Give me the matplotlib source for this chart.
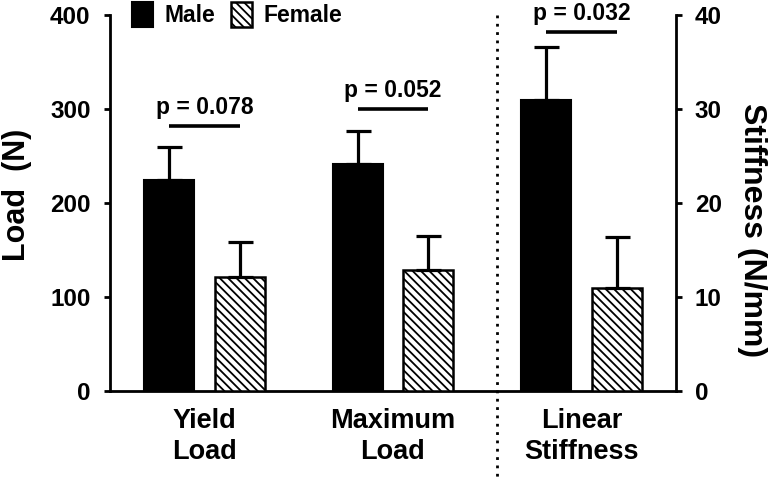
import matplotlib
matplotlib.use("Agg")
import matplotlib.pyplot as plt
from matplotlib.lines import Line2D
import numpy as np

plt.rcParams['font.family'] = ['Liberation Sans', 'DejaVu Sans']
plt.rcParams['font.weight'] = 'bold'
plt.rcParams['hatch.linewidth'] = 1.3

categories = ["Yield\nLoad", "Maximum\nLoad", "Linear\nStiffness"]
series = ["Male", "Female"]
male_vals = [225, 242, 31.0]
male_err = [35, 35, 5.6]
female_vals = [121, 129, 11.0]
female_err = [37, 36, 5.4]
p_labels = ["p = 0.078", "p = 0.052", "p = 0.032"]
p_heights = [282, 300, 38.2]
load_ticks = [0, 100, 200, 300, 400]
stiff_ticks = [0, 10, 20, 30, 40]

W, H = 774, 482
fig = plt.figure(figsize=(W / 100, H / 100), dpi=100)
ax = fig.add_axes([110 / W, 1 - 391 / H, (676 - 110) / W, (391 - 15) / H])
ax2 = ax.twinx()

x = np.arange(len(categories))
off = 0.188
bw = 0.265

err_kw = dict(elinewidth=2.3, capsize=9, capthick=2.3, ecolor='black')

for i in range(3):
    target = ax if i < 2 else ax2
    target.bar(x[i] - off, male_vals[i], bw, color='black', edgecolor='black', linewidth=1.5,
               yerr=[[0], [male_err[i]]], error_kw=err_kw, label=series[0] if i == 0 else None, zorder=3)
    target.bar(x[i] + off, female_vals[i], bw, color='white', edgecolor='black', linewidth=1.8,
               hatch='\\\\\\\\', yerr=[[0], [female_err[i]]], error_kw=err_kw,
               label=series[1] if i == 0 else None, zorder=3)
    target.plot([x[i] - off, x[i] + off], [p_heights[i], p_heights[i]], color='black', lw=2.6,
                solid_capstyle='butt', zorder=4)
    target.annotate(p_labels[i], xy=(x[i], p_heights[i]), xytext=(0, 8.5), textcoords='offset points',
                    ha='center', va='baseline', fontsize=16.5, fontweight='bold')

ax.set_xlim(-0.5, 2.5)
ax.set_ylim(0, 400)
ax2.set_ylim(0, 40)
ax.set_yticks(load_ticks)
ax2.set_yticks(stiff_ticks)
ax.set_xticks(x)
ax.set_xticklabels(categories, fontsize=19.5, fontweight='bold', linespacing=1.28)
ax.tick_params(axis='x', length=0, pad=12)
ax.tick_params(axis='y', direction='out', length=4, width=2, labelsize=17.5, pad=10)
ax2.tick_params(axis='y', direction='out', length=4, width=2, labelsize=17.5, pad=9.5)

for a in (ax, ax2):
    a.spines['top'].set_visible(False)
    for s in ('left', 'right', 'bottom'):
        a.spines[s].set_linewidth(2)
ax.spines['right'].set_visible(False)
ax2.spines['left'].set_visible(False)
ax2.spines['bottom'].set_visible(False)

fig.text(17 / W, 1 - 195 / H, "Load  (N)", rotation=90, ha='center', va='center',
         fontsize=22, fontweight='bold')
fig.text(752 / W, 1 - 230 / H, "Stiffness (N/mm)", rotation=270, ha='center', va='center',
         fontsize=23, fontweight='bold')

# dotted separator
xd = 1.553
trans = ax.get_xaxis_transform()
ax.add_line(Line2D([xd, xd], [1.0, -0.26], transform=trans, color='black', lw=2,
                   linestyle=(0, (1, 2)), clip_on=False))

h1, l1 = ax.get_legend_handles_labels()
leg = fig.legend(h1, l1, loc='upper left', bbox_to_anchor=(130 / W, 1 - 0 / H), ncol=2, frameon=False,
                 fontsize=16.5, handlelength=0.9, handleheight=1.3, handletextpad=0.5,
                 columnspacing=0.7, borderpad=0.1, borderaxespad=0)
for t in leg.get_texts():
    t.set_fontweight('bold')

fig.savefig("out.png", dpi=100)
